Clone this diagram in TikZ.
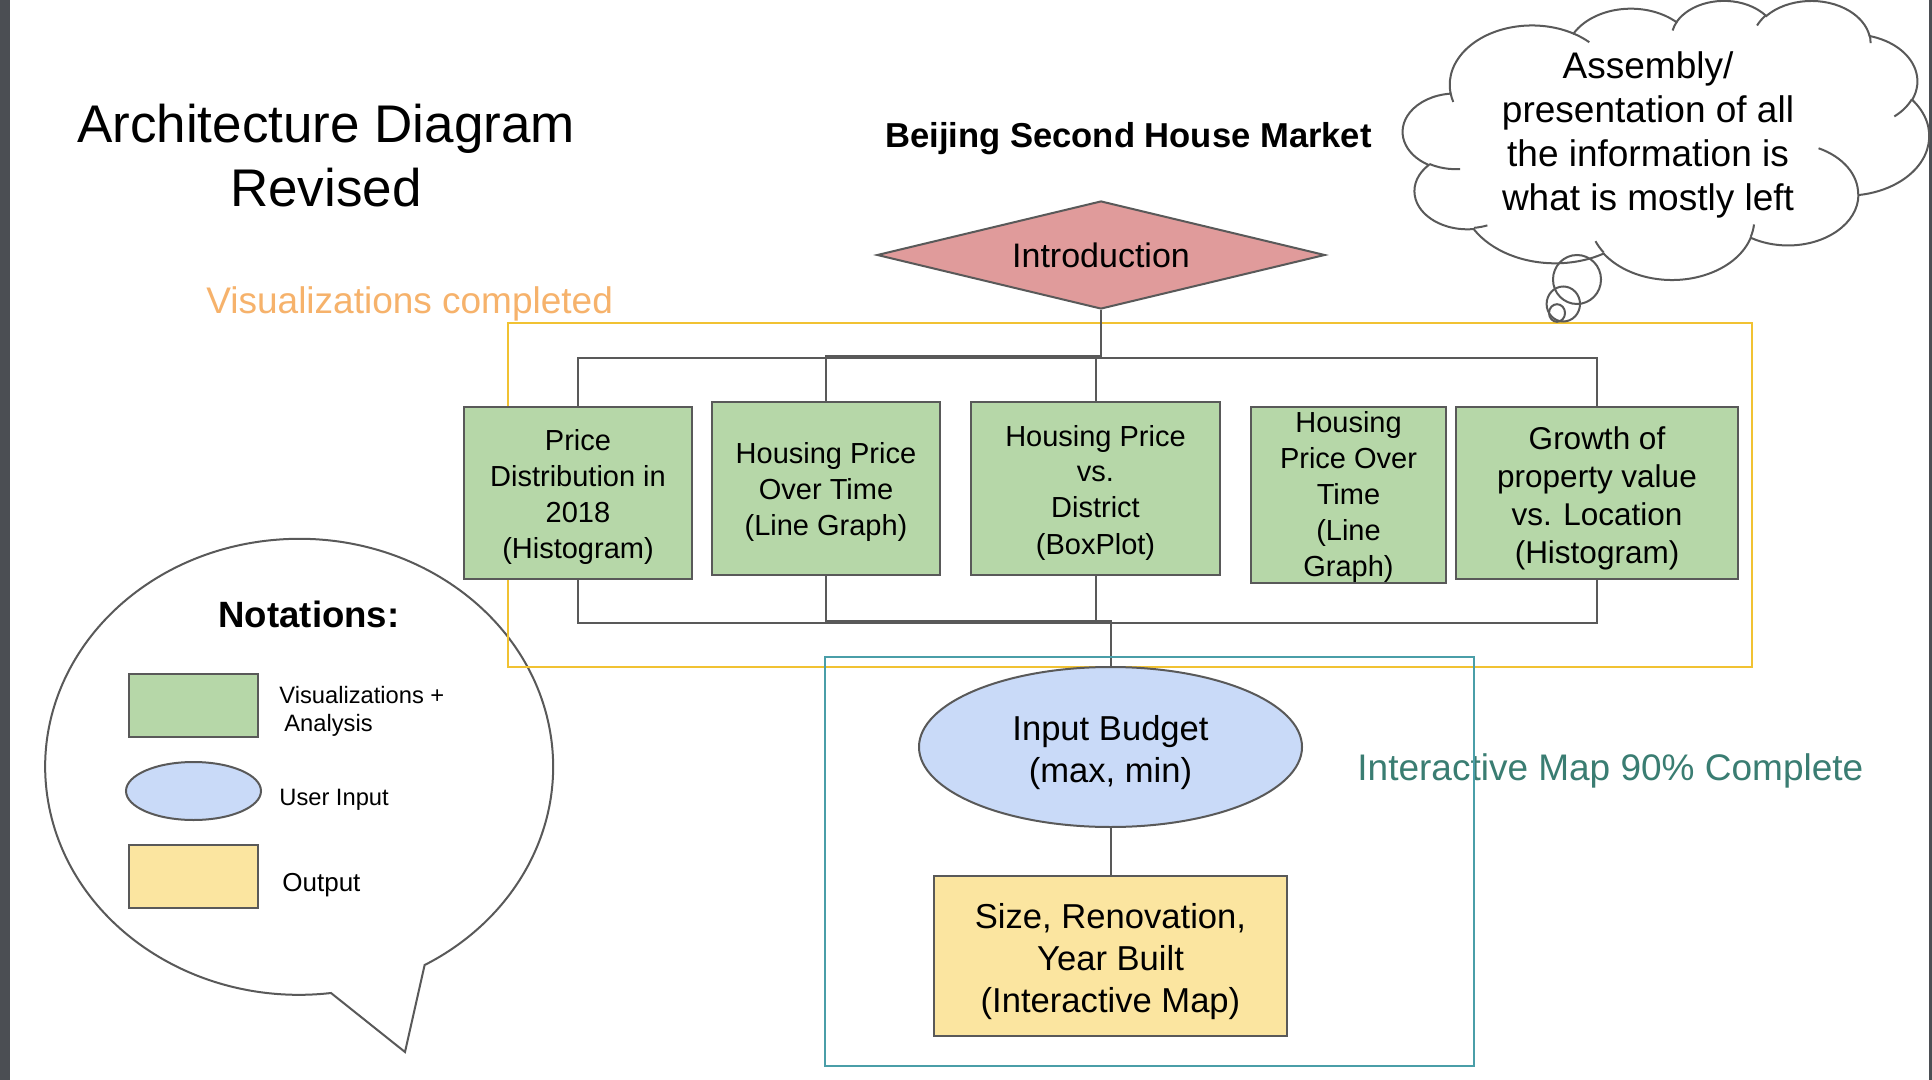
\documentclass[tikz,border=0pt]{standalone}
\usepackage{fontspec}
\setmainfont{Liberation Sans}
\usetikzlibrary{shapes.geometric}
\definecolor{grn}{HTML}{B6D7A8}
\definecolor{edge}{HTML}{595959}
\definecolor{pinkred}{HTML}{E09B9B}
\definecolor{lblue}{HTML}{C9DAF8}
\definecolor{lyel}{HTML}{FBE5A0}
\definecolor{goldline}{HTML}{F1C232}
\definecolor{orng}{HTML}{F6B26B}
\definecolor{tealbox}{HTML}{4A9EA8}
\definecolor{tealtxt}{HTML}{3A7D72}
\definecolor{sidebar}{HTML}{4B4E53}
\newcommand\fs[2]{\fontsize{#1}{#2}\selectfont}
\newcommand\stA{\rule{0pt}{14.5pt}}
\newcommand\stB{\rule{0pt}{16.3pt}}
\newcommand\stC{\rule{0pt}{18.4pt}}
\newcommand\stD{\rule{0pt}{12.5pt}}
\begin{document}
\begin{tikzpicture}[x=0.5pt,y=-0.5pt,
  vbox/.style={draw=edge, line width=1pt, fill=grn, inner sep=0pt, align=center, font=\fs{14.5pt}{18pt}},
  conn/.style={draw=edge, line width=1pt},
  outl/.style={draw=edge, line width=1pt},
  freetxt/.style={inner sep=0pt},
  carc/.style n args={4}{x radius=#1, y radius=#2,
     start angle={atan2((#1)*sin(#3),(#2)*cos(#3))},
     delta angle={mod(atan2((#1)*sin((#3)+(#4)),(#2)*cos((#3)+(#4)))-atan2((#1)*sin(#3),(#2)*cos(#3))+720,360)}},
]
\useasboundingbox (0,0) rectangle (1932,1080);
\fill[white] (0,0) rectangle (1932,1080);
\fill[sidebar] (0,0) rectangle (10,1080);
\fill[sidebar] (1929,0) rectangle (1932,1080);

% speech bubble (notations)
\draw[outl] (405,1052) -- (331,993) arc[x radius=254, y radius=228, start angle=82.8, end angle=420.4] -- cycle;

% orange group box
\draw[goldline, line width=1pt] (508,323) rectangle (1752,667);

% titles
\node[freetxt, anchor=base, font=\fs{26.5pt}{32pt}] (t1) at (326,143) {Architecture Diagram};
\node[freetxt, anchor=base, font=\fs{26.5pt}{32pt}] (t2) at (326,207) {Revised};
\node[freetxt, anchor=base west, text=orng, font=\fs{18.5pt}{22pt}] (vc) at (206,314) {Visualizations completed};
\node[freetxt, anchor=base, font=\bfseries\fs{17.3pt}{20pt}] (bj) at (1128.5,148) {Beijing Second House Market};

% cloud
\begin{scope}[shift={(1403,0)}, x=0.60880pt, y=-0.32292pt]
\filldraw[outl, fill=white] (39.00,143.70)
  arc[carc={67.53}{91.90}{-190.48748}{123.78053}]
  arc[carc={53.33}{72.67}{-144.10238}{89.94523}]
  arc[carc={43.65}{59.45}{-145.80792}{99.72302}]
  arc[carc={48.57}{65.95}{-130.98607}{117.24173}]
  arc[carc={53.33}{72.73}{-78.70888}{109.02692}]
  arc[carc={67.75}{92.20}{-46.26725}{130.26900}]
  arc[carc={57.85}{78.67}{0.62502}{114.03333}]
  arc[carc={67.52}{92.15}{22.45160}{115.17255}]
  arc[carc={77.20}{105.43}{66.24263}{75.71102}]
  arc[carc={43.60}{59.18}{-274.94208}{146.73557}]
  arc[carc={43.45}{59.45}{-246.82850}{152.51885}]
  -- cycle;
\draw[outl]
  (46.93,261.77) arc[carc={43.45}{59.45}{86.74200}{26.42950}]
  (69.28,348.99) arc[carc={43.60}{59.18}{73.61047}{11.44747}]
  (164.78,390.90) arc[carc={67.52}{92.15}{137.62415}{14.08110}]
  (288.27,347.51) arc[carc={67.52}{92.15}{6.45327}{15.99835}]
  (341.29,229.54) arc[carc={57.85}{78.67}{-70.29235}{70.91737}]
  (417.98,153.54) arc[carc={53.33}{72.73}{30.31803}{27.75150}]
  (383.24,54.26) arc[carc={48.57}{65.95}{-13.74433}{14.85890}]
  (290.78,39.52) arc[carc={48.57}{65.95}{-149.18145}{18.19537}]
  (221.41,47.20) arc[carc={43.65}{59.45}{-163.49427}{17.68635}]
  (140.00,51.92) arc[carc={67.53}{91.90}{-66.70695}{12.31935}]
  (41.27,157.89) arc[carc={67.53}{91.90}{157.65435}{11.85817}];
\end{scope}
\draw[outl] (1577,279.5) circle[x radius=24, y radius=24.5];
\draw[outl] (1563.3,304) circle[x radius=16.7, y radius=17.5];
\draw[outl] (1557,313) circle[x radius=8, y radius=8.8];
\node[freetxt, anchor=base, font=\fs{18.5pt}{22pt}] (c1) at (1648,79) {Assembly/};
\node[freetxt, anchor=base, font=\fs{18.5pt}{22pt}] (c2) at (1648,123) {presentation of all};
\node[freetxt, anchor=base, font=\fs{18.5pt}{22pt}] (c3) at (1648,167) {the information is};
\node[freetxt, anchor=base, font=\fs{18.5pt}{22pt}] (c4) at (1648,211) {what is mostly left};

% main nodes
\node[diamond, draw=edge, line width=1pt, fill=pinkred, inner sep=0pt, aspect=4.148,
      minimum width=224pt, minimum height=54pt, font=\fs{17pt}{20pt}] (intro) at (1101,255) {Introduction};
\node[vbox, minimum width=114pt, minimum height=86pt] (b1) at (578,493) {\stA Price\\Distribution in\\2018\\(Histogram)};
\node[vbox, minimum width=114pt, minimum height=86.5pt] (b2) at (826,488.5) {\stA Housing Price\\Over Time\\(Line Graph)};
\node[vbox, minimum width=124.5pt, minimum height=86.5pt] (b3) at (1095.5,488.5) {\stA Housing Price\\vs.\\District\\(BoxPlot)};
\node[vbox, minimum width=97.5pt, minimum height=87pt] (b4) at (1348.5,495) {\stD Housing\\Price Over\\Time\\(Line\\Graph)};
\node[vbox, minimum width=141pt, minimum height=86pt, font=\fs{15.75pt}{19pt}] (b5) at (1597,493) {\stB Growth of\\property value\\vs. Location\\(Histogram)};
\node[ellipse, draw=edge, line width=1pt, fill=lblue, inner sep=0pt, align=center,
      minimum width=191.5pt, minimum height=80pt, font=\fs{17.3pt}{21pt}] (inp) at (1110.5,747) {\stC Input Budget\\(max, min)};
\node[draw=edge, line width=1pt, fill=lyel, inner sep=0pt, align=center,
      minimum width=176.5pt, minimum height=80pt, font=\fs{17.3pt}{21pt}] (out) at (1110.5,956) {\stC Size, Renovation,\\Year Built\\(Interactive Map)};

% connectors
\coordinate (tbus) at (0,358);
\coordinate (tel) at (0,356);
\coordinate (bbus) at (0,623);
\coordinate (bel) at (0,621);
\draw[conn] (b1.north) -- (b1.north |- tbus) -- (b5.north |- tbus) -- (b5.north);
\draw[conn] (b3.north) -- (b3.north |- tbus);
\draw[conn] (intro.south) -- (intro.south |- tel) -- (b2.north |- tel) -- (b2.north);
\draw[conn] (b1.south) -- (b1.south |- bbus) -- (b5.south |- bbus) -- (b5.south);
\draw[conn] (b3.south) -- (b3.south |- bbus);
\draw[conn] (b2.south) -- (b2.south |- bel) -- (inp.north |- bel) -- (inp.north);
\draw[conn] (inp.south) -- (out.north);

% interactive map label and teal box
\node[freetxt, anchor=base west, text=tealtxt, font=\fs{18.5pt}{22pt}] (im) at (1357,780) {Interactive Map 90\% Complete};
\draw[tealbox, line width=1pt] (825,657) rectangle (1474,1066);

% legend
\node[freetxt, anchor=base, font=\bfseries\fs{18.3pt}{22pt}] (nt) at (309,627) {Notations:};
\node[draw=edge, line width=1pt, fill=grn, minimum width=64.5pt, minimum height=31.5pt, inner sep=0pt] (lg1) at (193.5,705.5) {};
\node[ellipse, draw=edge, line width=1pt, fill=lblue, minimum width=67.5pt, minimum height=29pt, inner sep=0pt] (lg2) at (193.5,791) {};
\node[draw=edge, line width=1pt, fill=lyel, minimum width=64.5pt, minimum height=31.5pt, inner sep=0pt] (lg3) at (193.5,876.5) {};
\node[freetxt, anchor=base west, font=\fs{11.85pt}{14pt}] (l1a) at (279,703) {Visualizations +};
\node[freetxt, anchor=base west, font=\fs{11.85pt}{14pt}] (l1b) at (284,731) {Analysis};
\node[freetxt, anchor=base west, font=\fs{11.85pt}{14pt}] (l2) at (279,805) {User Input};
\node[freetxt, anchor=base west, font=\fs{13pt}{15pt}] (l3) at (282,891) {Output};
\end{tikzpicture}
\end{document}
